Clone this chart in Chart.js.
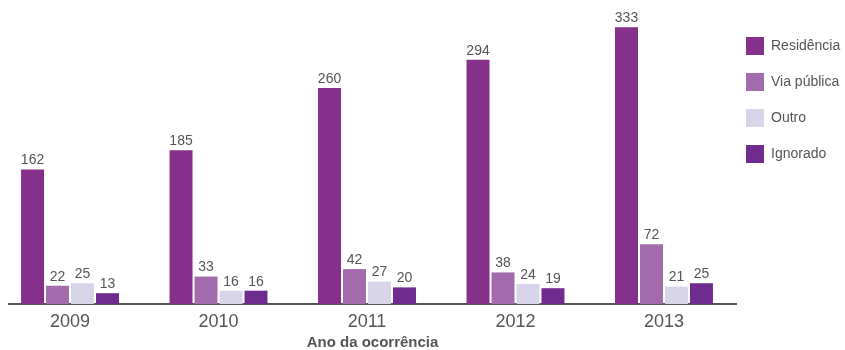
<!DOCTYPE html>
<html>
<head>
<meta charset="utf-8">
<script src="https://cdn.jsdelivr.net/npm/chart.js@4"></script>
<style>
  html, body { margin: 0; padding: 0; background: #fff; }
  #wrap { width: 845px; height: 350px; }
</style>
</head>
<body>
<div id="wrap"><canvas id="chart"></canvas></div>
<script>
const years = [2009, 2010, 2011, 2012, 2013]
const residencia = [162, 185, 260, 294, 333]
const viaPublica = [22, 33, 42, 38, 72]
const outro = [25, 16, 27, 24, 21]
const ignorado = [13, 16, 20, 19, 25]

const FONT = "'Liberation Sans', Arial, Helvetica, sans-serif"
const GREY = '#555'

// value labels on top of each bar
const barValues = {
    id: 'barValues',
    afterDatasetsDraw(chart){
        const ctx = chart.ctx
        ctx.save()
        ctx.font = `14px ${FONT}`
        ctx.fillStyle = GREY
        ctx.textAlign = 'center'
        ctx.textBaseline = 'bottom'
        chart.data.datasets.forEach((ds, i) => {
            chart.getDatasetMeta(i).data.forEach((bar, j) => {
                ctx.fillText(ds.data[j], bar.x, bar.y - 2)
            })
        })
        ctx.restore()
    }
}

// legend sits a bit closer to the plot and may use the full right margin
const legendNudge = {
    id: 'legendNudge',
    afterLayout(chart){
        const lg = chart.legend
        lg.left = chart.chartArea.right - 8
        lg.right = chart.width
        lg.width = lg.right - lg.left
    }
}

const ds = (label, data, color) => ({
    label: label,
    data: data,
    backgroundColor: color,
    borderWidth: 0
})

new Chart(document.querySelector('#chart'), {
    type: 'bar',
    data: {
        labels: years,
        datasets: [
            ds('Residência', residencia, '#85308A'),
            ds('Via pública', viaPublica, '#A26BAC'),
            ds('Outro', outro, '#D8D5EA'),
            ds('Ignorado', ignorado, '#6F2B8E')
        ]
    },
    options: {
        responsive: true,
        maintainAspectRatio: false,
        animation: false,
        layout: { padding: { top: 19, left: 9, right: 0, bottom: 0 } },
        datasets: {
            bar: { categoryPercentage: 0.673, barPercentage: 0.92 }
        },
        scales: {
            x: {
                type: 'linear',
                min: 2008.589,
                max: 2013.485,
                offset: false,
                afterFit: scale => { scale.height = 46 },
                grid: { display: false, drawTicks: false },
                border: { display: true, color: GREY, width: 2 },
                ticks: {
                    stepSize: 1,
                    includeBounds: false,
                    autoSkip: false,
                    maxRotation: 0,
                    padding: 9,
                    color: GREY,
                    font: { family: FONT, size: 18, lineHeight: 1 },
                    callback: v => Number.isInteger(v) ? String(v) : ''
                },
                title: {
                    display: true,
                    text: 'Ano da ocorrência',
                    color: GREY,
                    font: { family: FONT, size: 15, weight: 'bold', lineHeight: 1 },
                    padding: { top: 0, bottom: 0 }
                }
            },
            y: {
                display: false,
                min: 0,
                max: 343
            }
        },
        plugins: {
            legend: {
                position: 'right',
                align: 'start',
                maxWidth: 109,
                labels: {
                    boxWidth: 18,
                    boxHeight: 18,
                    padding: 18,
                    color: GREY,
                    font: { family: FONT, size: 14 }
                }
            },
            tooltip: { enabled: false }
        }
    },
    plugins: [barValues, legendNudge]
})
</script>
</body>
</html>
